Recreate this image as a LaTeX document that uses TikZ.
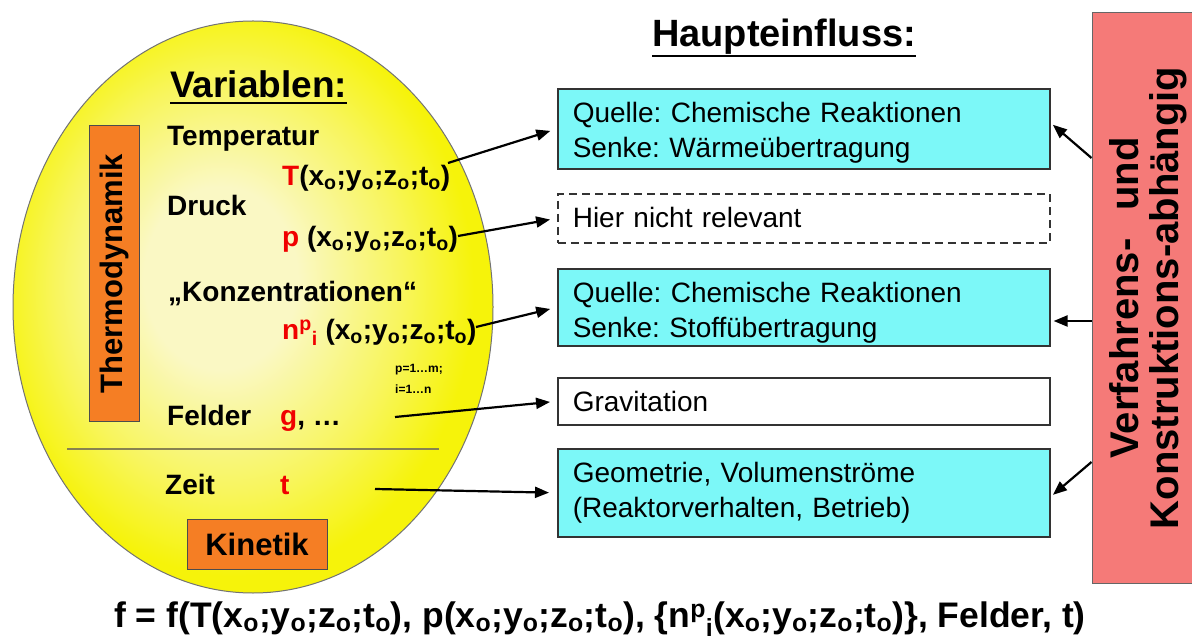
\documentclass[tikz,border=0pt]{standalone}
\usepackage{fontspec}
\setmainfont{Liberation Sans}
\usetikzlibrary{arrows.meta}
\definecolor{cyanbox}{RGB}{124,248,248}
\definecolor{orangebox}{RGB}{245,126,36}
\definecolor{redbox}{RGB}{245,122,120}
\definecolor{eggpale}{RGB}{250,248,196}
\definecolor{eggyellow}{RGB}{246,243,10}
\colorlet{eggmid}{eggpale!45!eggyellow}
\definecolor{sepline}{RGB}{135,130,80}
\definecolor{txtred}{RGB}{240,0,0}
\pgfdeclareradialshading{eggshade}{\pgfpoint{-4bp}{3bp}}{color(0bp)=(eggpale); color(8bp)=(eggpale); color(18bp)=(eggmid); color(25bp)=(eggyellow); color(50bp)=(eggyellow)}
\newcommand\subo{\textsubscript{o}}
\newcommand\args{(x\subo;y\subo;z\subo;t\subo)}
\frenchspacing
\tikzset{
  vtext/.style={anchor=base west, inner sep=0pt, font=\bfseries\fontsize{28}{30}\selectfont},
  smalltext/.style={anchor=base west, inner sep=0pt, font=\bfseries\fontsize{12}{14}\selectfont},
  obox/.style={draw=black!70, line width=1pt, fill=orangebox, inner sep=0pt, font=\bfseries\fontsize{31}{33}\selectfont},
  cbox/.style={draw=black!80, line width=1.6pt, fill=cyanbox, anchor=north west, inner xsep=15pt, inner ysep=4pt, text width=462pt, align=left, text height=30pt, font=\fontsize{28}{35}\selectfont},
  wbox/.style={cbox, fill=white},
  rbox/.style={draw=black!60, line width=1pt, fill=redbox, rotate=90, inner sep=0pt, align=center, font=\bfseries\fontsize{40}{40}\selectfont},
  arr/.style={-{Triangle[length=14pt,width=11pt]}, line width=2.2pt},
  uline/.style={line width=2.5pt},
}
\begin{document}
\begin{tikzpicture}[x=1pt,y=-1pt]
\useasboundingbox (0,0) rectangle (1192,644);
\fill[white] (0,0) rectangle (1192,644);

% egg
\shadedraw[shading=eggshade, draw=black!55, line width=1pt] (253,307) ellipse [x radius=240pt, y radius=286pt];

% left texts
\node[anchor=base west, inner sep=0pt, font=\bfseries\fontsize{37}{40}\selectfont] (var) at (170,98) {Variablen:};
\draw[uline] ([yshift=-5pt]var.base west) -- ([yshift=-5pt]var.base east);

\node[vtext] (temp) at (167,146) {Temperatur};
\node[vtext] (tf) at (282,186) {\textcolor{txtred}{T}\args};
\node[vtext] (druck) at (167,216) {Druck};
\node[vtext] (pf) at (282,247) {\textcolor{txtred}{p} \args};
\node[vtext] (konz) at (168,302) {„Konzentrationen“};
\node[vtext] (nf) at (282,340) {\textcolor{txtred}{n\textsuperscript{p}\textsubscript{i}} \args};
\node[smalltext] (pidx) at (395,373) {p=1…m;};
\node[smalltext] (iidx) at (395,393) {i=1…n};
\node[vtext] (felder) at (167,425) {Felder};
\node[vtext] (gf) at (280,425) {\textcolor{txtred}{g}, …};
\draw[sepline, line width=1.5pt] (67,449) -- (439,449);
\node[vtext] (zeit) at (165,494) {Zeit};
\node[vtext] (tt) at (280,494) {\textcolor{txtred}{t}};

\node[obox, rotate=90, minimum width=295pt, minimum height=50pt] (thermo) at (114,273.5) {Thermodynamik};
\node[obox, minimum width=140pt, minimum height=50pt] (kin) at (257,544) {Kinetik};

% right column
\node[anchor=base west, inner sep=0pt, font=\bfseries\fontsize{38}{40}\selectfont] (haupt) at (652,47) {Haupteinfluss:};
\draw[uline] ([yshift=-9pt]haupt.base west) -- ([yshift=-9pt]haupt.base east);

\node[cbox, text depth=42pt] (b1) at (557,88) {Quelle: Chemische Reaktionen\\Senke: Wärmeübertragung};
\node[wbox, dash pattern=on 8pt off 5pt, text depth=11pt] (b2) at (557,193) {Hier nicht relevant};
\node[cbox, text depth=39pt] (b3) at (557,268) {Quelle: Chemische Reaktionen\\Senke: Stoffübertragung};
\node[wbox, text depth=9pt] (b4) at (557,377) {Gravitation};
\node[cbox, text depth=50pt] (b5) at (557,448) {Geometrie, Volumenströme\\(Reaktorverhalten, Betrieb)};

\node[rbox, minimum width=570pt, minimum height=112pt] (rb) at (1148,298) {Verfahrens-\hspace{0.7em}und\\Konstruktions-abhängig};

% arrows from variables
\coordinate (a1) at (448,163);
\coordinate (a2) at (458,236);
\coordinate (a3) at (476,327);
\coordinate (a4) at (395,417);
\coordinate (a5) at (375,489);
\draw[arr, shorten >=7pt] (a1) -- (b1.west);
\draw[arr, shorten >=7pt] (a2) -- (b2.west);
\draw[arr, shorten >=7pt] (a3) -- (b3.west);
\draw[arr, shorten >=7pt] (a4) -- (b4.west);
\draw[arr, shorten >=8pt] (a5) -- (b5.west);

% arrows from red box
\coordinate (r1) at (rb.north |- 0,158);
\coordinate (r2) at (rb.north |- 0,321);
\coordinate (r3) at (rb.north |- 0,462);
\draw[arr, shorten >=3pt] (r1) -- ([yshift=6pt]b1.east);
\draw[arr, shorten >=3pt] (r2) -- (b3.east |- r2);
\draw[arr, shorten >=3pt] (r3) -- ([yshift=-4pt]b5.east);

% formula
\node[anchor=base, inner sep=0pt, font=\bfseries\fontsize{35.5}{38}\selectfont] (formula) at (600,627) {f = f(T\args, p\args, \{n\textsuperscript{p}\textsubscript{i}\args\}, Felder, t)};
\end{tikzpicture}
\end{document}
